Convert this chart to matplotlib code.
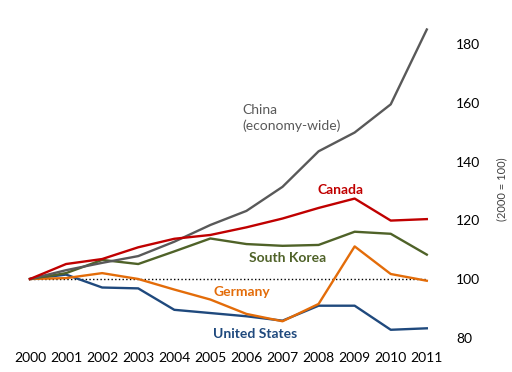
import numpy as np
import matplotlib.pyplot as plt

plt.rcParams['font.family'] = ['Lato', 'DejaVu Sans']

years = np.arange(2000, 2012)
china = [100, 103.0, 105.5, 107.8, 112.7, 118.4, 123.2, 131.4, 143.5, 149.9, 159.5, 185.0]
canada = [100, 105.1, 106.8, 110.8, 113.7, 115.0, 117.6, 120.6, 124.2, 127.4, 119.9, 120.4]
korea = [100, 102.0, 106.5, 105.1, 109.4, 113.8, 111.9, 111.3, 111.6, 116.1, 115.4, 108.3]
germany = [100, 100.3, 102.0, 100.0, 96.4, 93.0, 88.1, 85.6, 91.5, 111.1, 101.7, 99.4]
usa = [100, 101.5, 97.1, 96.8, 89.5, 88.4, 87.3, 85.8, 90.9, 90.9, 82.7, 83.2]

series = [
    (usa, '#1F497D', 'United States', 2006.24, 81.4, 'bold', 'center'),
    (germany, '#E36C09', 'Germany', 2005.88, 95.7, 'bold', 'center'),
    (korea, '#4F6228', 'South Korea', 2007.15, 107.3, 'bold', 'center'),
    (china, '#595959', 'China\n(economy-wide)', 2005.88, 154.9, 'normal', 'left'),
    (canada, '#C00000', 'Canada', 2008.6, 130.4, 'bold', 'center'),
]

fig = plt.figure(figsize=(5.12, 3.72), dpi=100)
ax = fig.add_axes([0.0586, 0.0922, 0.775, 0.868])

ax.plot([2000, 2011], [100, 100], color='black', linestyle=':', linewidth=1.0, zorder=1)
for vals, col, name, tx, ty, w, ha in series:
    ax.plot(years, vals, color=col, linewidth=1.7, clip_on=False, zorder=2)
    ax.text(tx, ty, name, color=col, fontsize=10, fontweight=w, ha=ha, va='center',
            linespacing=1.3)

ax.set_xlim(2000, 2011)
ax.set_ylim(80, 190)
ax.set_xticks(years)
ax.set_xticklabels([str(y) for y in years])
ax.set_yticks([80, 100, 120, 140, 160, 180])
ax.yaxis.tick_right()
ax.tick_params(axis='x', length=0, pad=10, labelsize=10)
ax.tick_params(axis='y', length=0, pad=21, labelsize=10)
for s in ax.spines.values():
    s.set_visible(False)

fig.text(502 / 512, 1 - 189 / 372, '(2000 = 100)', rotation=90, ha='center', va='center',
         fontsize=8, color='#404040')

fig.savefig('out.png', dpi=100)
